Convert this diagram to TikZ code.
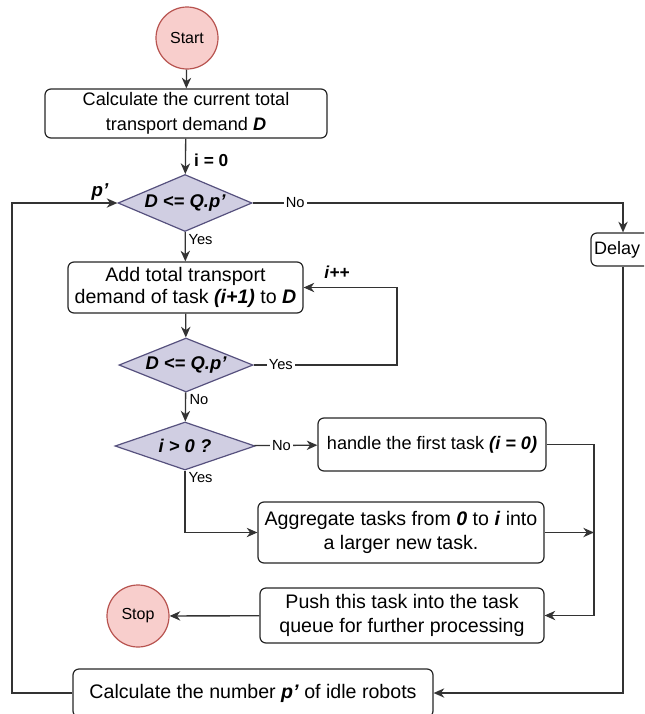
\documentclass[tikz,border=0pt]{standalone}
\usepackage{fontspec}
\setmainfont{Liberation Sans}
\usetikzlibrary{shapes.geometric,arrows.meta}
\definecolor{dfill}{HTML}{D0CEE2}
\definecolor{dline}{HTML}{56517E}
\definecolor{cfill}{HTML}{F8CECC}
\definecolor{cline}{HTML}{B85450}
\definecolor{connc}{HTML}{333333}
\begin{document}
\begin{tikzpicture}[x=0.75pt,y=-0.75pt,
  box/.style={draw=black!85, rounded corners=4.5pt, fill=white, align=center, inner sep=0pt, font=\fontsize{14.7}{18.5}\selectfont, line width=0.9pt},
  dec/.style={diamond, draw=dline, fill=dfill, inner sep=0pt, font=\fontsize{13.8}{16}\selectfont\bfseries\itshape, line width=0.9pt},
  term/.style={circle, draw=cline, fill=cfill, inner sep=0pt, minimum size=62*0.75pt, font=\fontsize{12}{14}\selectfont, line width=0.9pt},
  arr/.style={draw=connc, line width=1pt, -{Stealth[length=8pt,width=7pt,inset=2.5pt]}},
  lab/.style={font=\fontsize{11}{13}\selectfont, inner sep=1.5pt},
  blab/.style={font=\fontsize{13}{15}\selectfont\bfseries\itshape, inner sep=1pt},
]
\useasboundingbox (0,0) rectangle (644,714);
\clip (0,0) rectangle (644,714);

\node[term] (start) at (187,38) {Start};
\node[box, minimum width=282*0.75pt, minimum height=49*0.75pt, font=\fontsize{13.6}{18.75}\selectfont] (b1) at (186,113.5) {Calculate the current total\\transport demand \textbf{\textit{D}}};
\node[dec, minimum width=134*0.75pt, minimum height=57*0.75pt, shape aspect=2.35] (d1) at (185,203) {D <= Q.p'};
\node[box, minimum height=33*0.75pt, text width=58*0.75pt, align=left, inner xsep=3*0.75pt, font=\fontsize{13.5}{16}\selectfont] (delay) at (623,249.5) {Delay};
\node[box, minimum width=235*0.75pt, minimum height=51*0.75pt, font=\fontsize{14.7}{16.5}\selectfont] (b2) at (185.5,287.5) {Add total transport\\demand of task \textbf{\textit{(i+1)}} to \textbf{\textit{D}}};
\node[dec, minimum width=134*0.75pt, minimum height=54*0.75pt, shape aspect=2.4] (d2) at (186,365) {D <= Q.p'};
\node[dec, minimum width=140*0.75pt, minimum height=48*0.75pt, shape aspect=2.9] (d3) at (185,446) {i > 0 ?};
\node[box, minimum width=228*0.75pt, minimum height=53*0.75pt, font=\fontsize{13.6}{16}\selectfont] (handle) at (432,444.5) {handle the first task \textbf{\textit{(i = 0)}}};
\node[box, minimum width=286*0.75pt, minimum height=61*0.75pt] (agg) at (401,532.5) {Aggregate tasks from \textbf{\textit{0}} to \textbf{\textit{i}} into\\a larger new task.};
\node[box, minimum width=284*0.75pt, minimum height=55*0.75pt] (push) at (402,615.5) {Push this task into the task\\queue for further processing};
\node[term] (stop) at (138,616) {Stop};
\node[box, minimum width=360*0.75pt, minimum height=48*0.75pt] (bottom) at (253,693) {Calculate the number \textbf{\textit{p'}} of idle robots};

\coordinate (c1) at (397,0);
\coordinate (c2) at (594,0);
\coordinate (c3) at (12,0);

\draw[arr] (start) -- (b1);
\draw[arr] (b1) -- node[pos=0.62, anchor=west, xshift=5pt, inner sep=1pt, font=\fontsize{13}{15}\selectfont\bfseries]{i = 0} (d1);
\draw[arr] (d1.east) -- node[lab, fill=white, pos=0.115]{No} (d1.east -| delay.north) -- (delay.north);
\draw[arr] (d1) -- (b2);
\node[lab, anchor=north west, xshift=1pt] (y1) at (d1.south) {Yes};
\draw[arr] (b2) -- (d2);
\draw[arr] (d2.east) -- node[lab, fill=white, pos=0.19]{Yes} (d2.east -| c1) -- (b2.east -| c1) -- (b2.east);
\node[blab] (ipp) at (337,272) {i++};
\draw[arr] (d2) -- (d3);
\node[lab, anchor=north west, xshift=1pt] (n2) at (d2.south) {No};
\draw[arr] (d3) -- node[lab, fill=white, pos=0.43]{No} (handle);
\draw[arr] (d3.south) |- (agg.west);
\node[lab, anchor=north west, xshift=1pt] (y3) at (d3.south) {Yes};
\draw[arr] (handle.east) -- (handle.east -| c2) |- (push.east);
\draw[arr] (agg.east) -- (agg.east -| c2);
\draw[arr] (push) -- (stop);
\draw[arr] (delay.south) |- (bottom.east);
\draw[arr] (bottom.west) -- (bottom.west -| c3) |- (d1.west);
\node[blab, font=\fontsize{14}{16}\selectfont\bfseries\itshape] (pp) at (100,192) {p'};
\end{tikzpicture}
\end{document}
